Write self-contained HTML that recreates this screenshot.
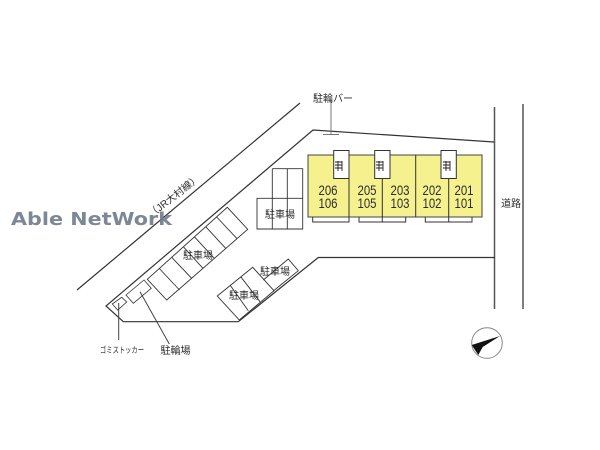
<!DOCTYPE html>
<html><head><meta charset="utf-8"><style>
html,body{margin:0;padding:0;background:#fff}
svg{display:block;filter:blur(.35px)}
text{font-family:"Liberation Sans","Noto Sans CJK JP",sans-serif;fill:#2c2c2c;text-anchor:middle}
</style></head><body>
<svg width="600" height="450" viewBox="0 0 600 450" xmlns="http://www.w3.org/2000/svg">
<g fill="none" stroke="#333" stroke-width="1">
<path d="M77 290L300 103" stroke-width="1.2"/>
<path d="M494.500 107V309M523 104V309" stroke="#555" stroke-width="1.5"/>
<path d="M494 142L313 130L106 306L123.300 321.700H238.300L318.300 257.500H495" stroke-width="1.2"/>
<path d="M331 100V134M323 134.500H339" stroke="#777"/>
<!-- top parking -->
<path d="M272.300 168.700H302.700V229H257V198.300H302.700M272.300 168.700V229M287.300 168.700V229" stroke-width=".9"/>
<!-- long parking -->
<path d="M147.300 279.300L227.300 207.300L247.700 229.300L166.700 300Z M159.300 268.500L179.500 290 M171.700 257.300L192 278.700 M183.300 246.700L203.300 268.700 M194.300 236.700L214.500 258.500 M205.700 226.700L226 248.700 M216.700 217L237 238.700" stroke-width=".9"/>
<!-- lower parking -->
<path d="M217.300 296L252.700 267.300L274 290.700L239.300 320Z M230 285L248.300 310.700 M240.700 276.700L260 301.700" stroke-width=".9"/>
<path d="M263.300 280L288.300 259L298.300 270.700L273.300 291" stroke-width=".9"/>
<!-- gomi / bike -->
<path d="M112.300 304L121.700 297.300L126.700 302L117.700 310Z M126 295L144 280L151.300 288.300L133.300 303.300Z" stroke-width=".8"/>
<path d="M118.700 303V340M140 291.700L169.300 344" stroke="#444"/>
<!-- balconies -->
<path d="M312.700 217V222H349V217M359 217V222H405.700V217M382.300 217V222M425.300 217V222H472V217M448.700 217V222" stroke-width="1"/>
<!-- building -->
<rect x="308" y="155" width="174" height="62" fill="#f6f18f" stroke="#444"/>
<path d="M349 155V217M382.300 155V217M415.700 155V217M448.700 155V217" stroke="#333"/>
<!-- stair boxes -->
<rect x="333.700" y="150.500" width="15.300" height="28" fill="#fff" stroke="#333"/>
<rect x="374.700" y="150.500" width="15.300" height="28" fill="#fff" stroke="#333"/>
<rect x="441" y="150.500" width="15.300" height="28" fill="#fff" stroke="#333"/>
<path d="M335 162H342M335 165H342M335 168H342M338 161V171M342 161V171M376 162H383M376 165H383M376 168H383M379 161V171M383 161V171M443 162H450M443 165H450M443 168H450M446 161V171M450 161V171" stroke="#222" stroke-width=".9"/>
<!-- compass -->
<circle cx="487" cy="343" r="15.300" stroke="#888"/>
</g>
<polygon points="500,336 471.700,345 478.300,355 482.700,347" fill="#111"/>

<g font-size="14">
<text x="328" y="195" textLength="19" lengthAdjust="spacingAndGlyphs">206</text><text x="328" y="208" textLength="19" lengthAdjust="spacingAndGlyphs">106</text>
<text x="367" y="195" textLength="19" lengthAdjust="spacingAndGlyphs">205</text><text x="367" y="208" textLength="19" lengthAdjust="spacingAndGlyphs">105</text>
<text x="400" y="195" textLength="19" lengthAdjust="spacingAndGlyphs">203</text><text x="400" y="208" textLength="19" lengthAdjust="spacingAndGlyphs">103</text>
<text x="432" y="195" textLength="19" lengthAdjust="spacingAndGlyphs">202</text><text x="432" y="208" textLength="19" lengthAdjust="spacingAndGlyphs">102</text>
<text x="464" y="195" textLength="19" lengthAdjust="spacingAndGlyphs">201</text><text x="464" y="208" textLength="19" lengthAdjust="spacingAndGlyphs">101</text>
</g>
<g font-size="10">
<text x="511" y="207">道路</text>
<text x="333" y="102">駐輪バー</text>
<text x="280" y="218">駐車場</text>
<text x="198" y="259">駐車場</text>
<text x="244" y="299">駐車場</text>
<text x="275" y="275">駐車場</text>
<text x="175.500" y="354">駐輪場</text>
<text transform="translate(174 196) rotate(-38)" y="3.500">（JR大村線）</text>
</g>
<text x="122" y="353" font-size="8.500" textLength="44" lengthAdjust="spacingAndGlyphs">ゴミストッカー</text>
<text x="11" y="225" textLength="161" lengthAdjust="spacingAndGlyphs" style="text-anchor:start;font-family:'DejaVu Sans',sans-serif;font-weight:bold;font-size:18px;fill:#6f7a8a" opacity=".9">Able NetWork</text>
</svg>
</body></html>
